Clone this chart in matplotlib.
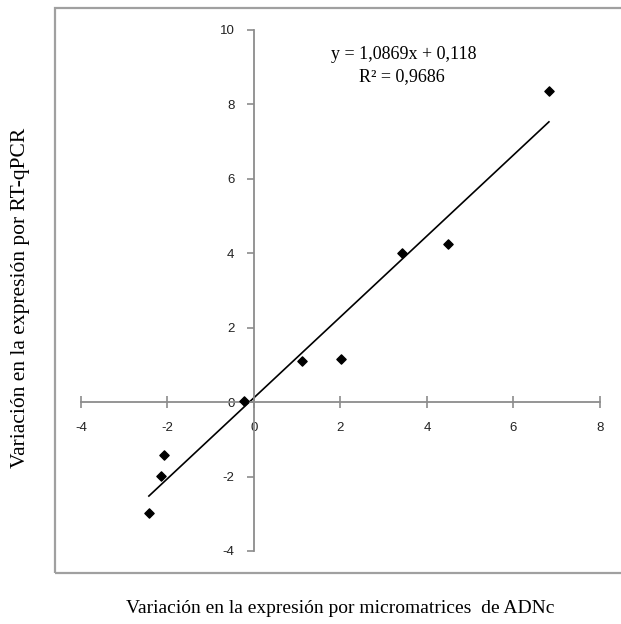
# scatter of RT-qPCR vs microarray expression changes with linear trend
import matplotlib.pyplot as plt
import numpy as np
from matplotlib.patches import Rectangle

# data
micro = [-2.43, -2.15, -2.08, -0.23, 1.11, 2.01, 3.42, 4.49, 6.82]
qpcr = [-2.98, -1.99, -1.42, 0.03, 1.10, 1.16, 4.00, 4.25, 8.36]
slope = 1.0869
intercept = 0.118
x_ticks = [-4, -2, 0, 2, 4, 6, 8]
y_ticks = [-4, -2, 0, 2, 4, 6, 8, 10]

axis_gray = '#8c8c8c'

fig = plt.figure(figsize=(6.21, 6.24), dpi=100)
ax = fig.add_axes([0.1304, 0.117, 0.8357, 0.835])

# points and trend line
ax.scatter(micro, qpcr, marker='D', s=22, color='black', zorder=3)
xt = np.array([min(micro), max(micro)])
ax.plot(xt, slope * xt + intercept, color='black', linewidth=1.2, zorder=2)

ax.set_xlim(-4, 8)
ax.set_ylim(-4, 10)

# excel style: axes crossing at origin
ax.spines['left'].set_position(('data', 0))
ax.spines['bottom'].set_position(('data', 0))
ax.spines['top'].set_visible(False)
ax.spines['right'].set_visible(False)
for s in ['left', 'bottom']:
    ax.spines[s].set_color(axis_gray)
    ax.spines[s].set_linewidth(1.3)

ax.set_xticks(x_ticks)
ax.set_yticks(y_ticks)
ax.set_xticklabels([str(v) for v in x_ticks], family='Liberation Sans')
ax.set_yticklabels([str(v) for v in y_ticks], family='Liberation Sans')
ax.tick_params(axis='x', direction='inout', length=8, width=1.2, color=axis_gray,
               labelsize=9.5, pad=10, labelcolor='#222222')
ax.tick_params(axis='y', direction='out', length=5, width=1.2, color=axis_gray,
               labelsize=9.5, pad=9, labelcolor='#222222')

# equation text
ax.text(0.622, 0.952, 'y = 1,0869x + 0,118', transform=ax.transAxes,
        fontsize=13, family='Liberation Serif', ha='center', va='center')
ax.text(0.619, 0.910, 'R² = 0,9686', transform=ax.transAxes,
        fontsize=13, family='Liberation Serif', ha='center', va='center')

# outer gray frame of the chart area
fig.patches.append(Rectangle((0.0886, 0.0817), 0.95, 0.905, transform=fig.transFigure,
                             fill=False, edgecolor='#a0a0a0', linewidth=1.6))

# axis titles outside the frame
fig.text(0.033, 0.522, 'Variación en la expresión por RT-qPCR', rotation=90,
         fontsize=15.5, family='Liberation Serif', ha='center', va='center')
fig.text(0.548, 0.025, 'Variación en la expresión por micromatrices  de ADNc',
         fontsize=14, family='Liberation Serif', ha='center', va='center')

plt.savefig('out.png', dpi=100)
